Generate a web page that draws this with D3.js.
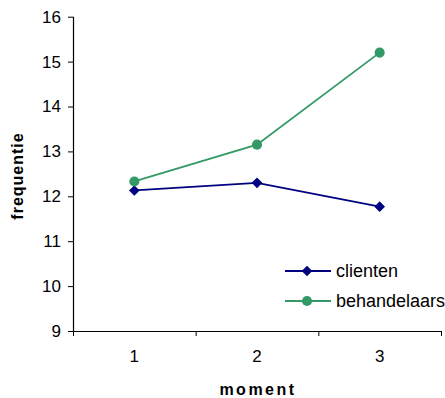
<!DOCTYPE html>
<html>
<head>
<meta charset="utf-8">
<script src="https://cdn.jsdelivr.net/npm/d3@7"></script>
<style>
  html, body { margin: 0; padding: 0; background: #fff; }
  svg { display: block; font-family: "Liberation Sans", Arial, sans-serif; }
</style>
</head>
<body>
<svg id="chart" width="445" height="398"></svg>
<script>
// Measurement moments on the x axis
const moments = ["1", "2", "3"];
// Mean frequency per group at each moment
const clienten = [12.13, 12.3, 11.77];
const behandelaars = [12.33, 13.15, 15.2];
// Y axis ticks
const yTicks = [9, 10, 11, 12, 13, 14, 15, 16];

const series = [
  { name: "clienten", values: clienten, color: "#000080", marker: "diamond" },
  { name: "behandelaars", values: behandelaars, color: "#339966", marker: "circle" }
];

const svg = d3.select("#chart");
const plot = { left: 73, right: 441, top: 16.7, bottom: 331 };

const x = d3.scaleBand().domain(moments).range([plot.left, plot.right]).padding(0);
const y = d3.scaleLinear().domain([9, 16]).range([plot.bottom, plot.top]);

// Y axis
const yAxis = svg.append("g")
  .attr("transform", `translate(${plot.left},0)`)
  .call(d3.axisLeft(y).tickValues(yTicks).tickSize(5).tickPadding(7).tickFormat(d3.format("d")));
yAxis.select(".domain").attr("stroke", "#000").attr("stroke-width", 1.2).attr("d", `M0.5,${plot.top}V${plot.bottom}`);
yAxis.selectAll(".tick line").attr("stroke", "#000");
yAxis.selectAll(".tick text").attr("font-size", 17).attr("fill", "#000")
  .attr("font-family", "Liberation Sans, Arial, sans-serif");

// X axis with ticks on category boundaries
const xAxis = svg.append("g")
  .attr("transform", `translate(0,${plot.bottom})`);
xAxis.append("line")
  .attr("x1", plot.left).attr("x2", plot.right)
  .attr("y1", 0.5).attr("y2", 0.5)
  .attr("stroke", "#000").attr("stroke-width", 1.2);
const boundaries = moments.map(m => x(m) + x.bandwidth());
xAxis.selectAll("line.tick")
  .data([x(moments[0])].concat(boundaries))
  .join("line")
  .attr("class", "tick")
  .attr("x1", d => d + 0.5).attr("x2", d => d + 0.5)
  .attr("y1", 0).attr("y2", 5)
  .attr("stroke", "#000");
xAxis.selectAll("text.lbl")
  .data(moments)
  .join("text")
  .attr("class", "lbl")
  .attr("x", d => x(d) + x.bandwidth() / 2)
  .attr("y", 31)
  .attr("text-anchor", "middle")
  .attr("font-size", 17)
  .text(d => d);

// Axis titles
svg.append("text")
  .attr("x", 258).attr("y", 394.5)
  .attr("text-anchor", "middle")
  .attr("font-size", 16).attr("font-weight", "bold")
  .attr("letter-spacing", 2.5)
  .text("moment");
svg.append("text")
  .attr("transform", "translate(23,176) rotate(-90)")
  .attr("text-anchor", "middle")
  .attr("font-size", 16).attr("font-weight", "bold")
  .attr("letter-spacing", 1)
  .text("frequentie");

// Lines and markers
const cx = (d, i) => x(moments[i]) + x.bandwidth() / 2;
const line = d3.line().x((d, i) => cx(d, i)).y(d => y(d));
const diamond = d3.symbol().type(d3.symbolDiamond2).size(72);
const circle = d3.symbol().type(d3.symbolCircle).size(80);

series.forEach(s => {
  const g = svg.append("g");
  g.append("path")
    .datum(s.values)
    .attr("d", line)
    .attr("fill", "none")
    .attr("stroke", s.color)
    .attr("stroke-width", 1.8);
  g.selectAll("path.mk")
    .data(s.values)
    .join("path")
    .attr("class", "mk")
    .attr("transform", (d, i) => `translate(${cx(d, i)},${y(d)})`)
    .attr("d", s.marker === "diamond" ? diamond : circle)
    .attr("fill", s.color);
});

// Legend
const legend = svg.append("g");
series.forEach((s, i) => {
  const ly = 271 + i * 30;
  legend.append("line")
    .attr("x1", 285).attr("x2", 331)
    .attr("y1", ly).attr("y2", ly)
    .attr("stroke", s.color).attr("stroke-width", 1.8);
  legend.append("path")
    .attr("transform", `translate(307,${ly})`)
    .attr("d", s.marker === "diamond" ? diamond : circle)
    .attr("fill", s.color);
  legend.append("text")
    .attr("x", 336).attr("y", ly)
    .attr("dy", "0.35em")
    .attr("font-size", 18)
    .text(s.name);
});
</script>
</body>
</html>
